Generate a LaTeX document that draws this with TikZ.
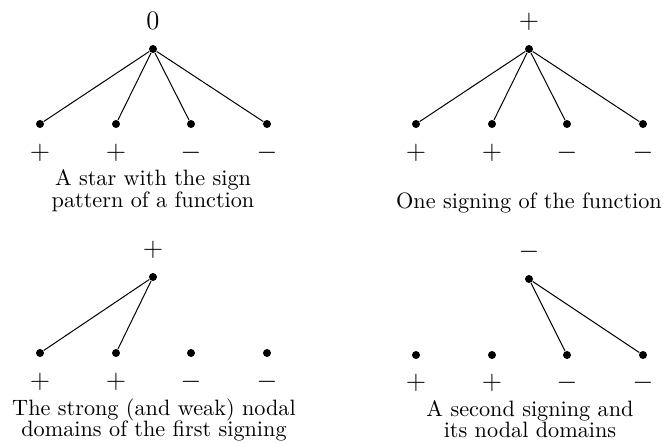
\documentclass[tikz,border=0pt]{standalone}
\begin{document}
\begin{tikzpicture}[x=0.45pt,y=-0.45pt,
  vdot/.style={circle,fill=black,inner sep=0pt,minimum size=3.6pt},
  sgn/.style={inner sep=0pt,font=\fontsize{12}{14}\selectfont},
  captxt/.style={inner sep=0pt,anchor=base,font=\fontsize{10}{12}\selectfont},
  conn/.style={line width=0.45pt}]
\useasboundingbox (0,0) rectangle (665,443);
% ---------- panel 1 ----------
\node[vdot] (c1) at (153,49) {};
\node[vdot] (a1) at (40,124) {};
\node[vdot] (b1) at (116,124) {};
\node[vdot] (d1) at (191,124) {};
\node[vdot] (e1) at (267,124) {};
\node[sgn] (t1) at (153,21) {$0$};
\node[sgn] (pa1) at (40,153) {$+$};
\node[sgn] (pb1) at (116,153) {$+$};
\node[sgn] (pd1) at (191,153) {$-$};
\node[sgn] (pe1) at (267,153) {$-$};
\draw[conn] (c1) -- (a1);
\draw[conn] (c1) -- (b1);
\draw[conn] (c1) -- (d1);
\draw[conn] (c1) -- (e1);
\node[captxt] (k1a) at (153,186) {A star with the sign};
\node[captxt] (k1b) at (153,208) {pattern of a function};
% ---------- panel 2 ----------
\node[vdot] (c2) at (529,49) {};
\node[vdot] (a2) at (416,124) {};
\node[vdot] (b2) at (492,124) {};
\node[vdot] (d2) at (567,124) {};
\node[vdot] (e2) at (643,124) {};
\node[sgn] (t2) at (529,22) {$+$};
\node[sgn] (pa2) at (416,153) {$+$};
\node[sgn] (pb2) at (492,153) {$+$};
\node[sgn] (pd2) at (567,153) {$-$};
\node[sgn] (pe2) at (643,153) {$-$};
\draw[conn] (c2) -- (a2);
\draw[conn] (c2) -- (b2);
\draw[conn] (c2) -- (d2);
\draw[conn] (c2) -- (e2);
\node[captxt] (k2) at (529,209) {One signing of the function};
% ---------- panel 3 ----------
\node[vdot] (c3) at (153,277) {};
\node[vdot] (a3) at (40,353) {};
\node[vdot] (b3) at (116,353) {};
\node[vdot] (d3) at (191,353) {};
\node[vdot] (e3) at (267,353) {};
\node[sgn] (t3) at (153,250) {$+$};
\node[sgn] (pa3) at (40,382) {$+$};
\node[sgn] (pb3) at (116,382) {$+$};
\node[sgn] (pd3) at (191,382) {$-$};
\node[sgn] (pe3) at (267,382) {$-$};
\draw[conn] (c3) -- (a3);
\draw[conn] (c3) -- (b3);
\node[captxt] (k3a) at (154,416) {The strong (and weak) nodal};
\node[captxt] (k3b) at (154,437) {domains of the first signing};
% ---------- panel 4 ----------
\node[vdot] (c4) at (529,279) {};
\node[vdot] (a4) at (416,355) {};
\node[vdot] (b4) at (492,355) {};
\node[vdot] (d4) at (567,355) {};
\node[vdot] (e4) at (643,355) {};
\node[sgn] (t4) at (529,252) {$-$};
\node[sgn] (pa4) at (416,383) {$+$};
\node[sgn] (pb4) at (492,383) {$+$};
\node[sgn] (pd4) at (567,383) {$-$};
\node[sgn] (pe4) at (643,383) {$-$};
\draw[conn] (c4) -- (d4);
\draw[conn] (c4) -- (e4);
\node[captxt] (k4a) at (530,417) {A second signing and};
\node[captxt] (k4b) at (530,438) {its nodal domains};
\end{tikzpicture}
\end{document}
